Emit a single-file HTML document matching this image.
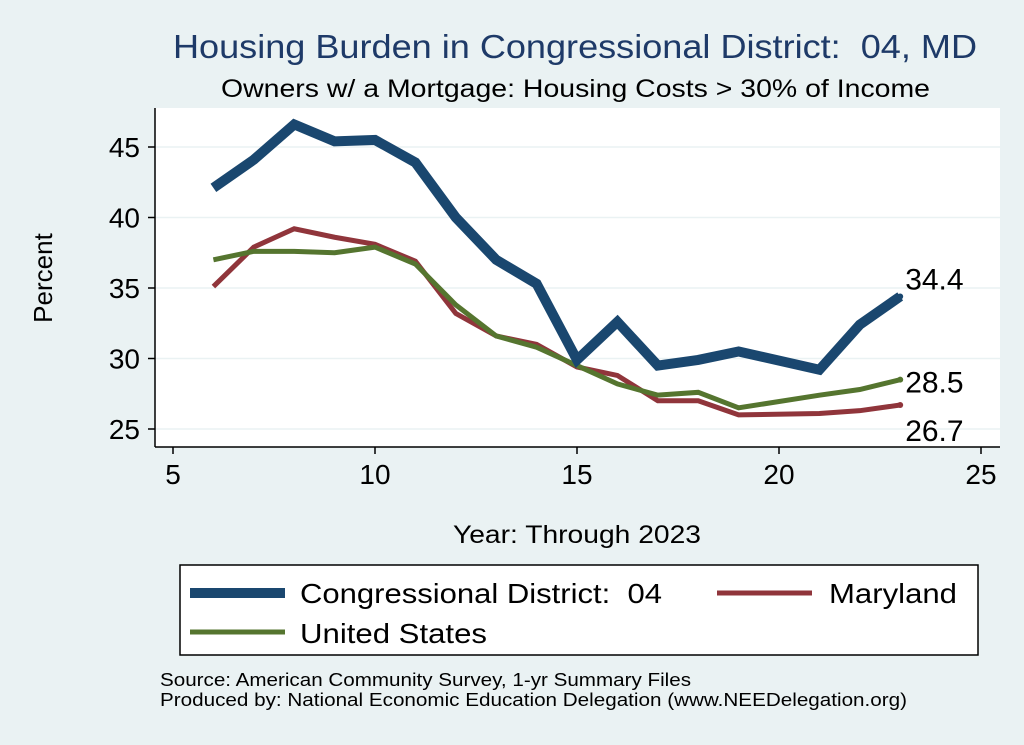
<!DOCTYPE html>
<html><head><meta charset="utf-8"><style>
body{margin:0;background:#eaf2f3;}
svg{display:block;font-family:"Liberation Sans",sans-serif;}
text{white-space:pre;}
</style></head><body>
<svg width="1024" height="745">
<rect x="0" y="0" width="1024" height="745" fill="#eaf2f3"/>
<text x="173" y="58" font-size="33" fill="#1e3a68" textLength="804" lengthAdjust="spacingAndGlyphs">Housing Burden in Congressional District:  04, MD</text>
<text x="221" y="97" font-size="25" fill="#000" textLength="709" lengthAdjust="spacingAndGlyphs">Owners w/ a Mortgage: Housing Costs &gt; 30% of Income</text>
<rect x="155" y="108" width="845" height="339" fill="#fff"/>
<g id="grid"></g>
<g id="axes"></g>
<g id="series"></g>
<text x="453" y="543" font-size="25" textLength="248" lengthAdjust="spacingAndGlyphs">Year: Through 2023</text>
<text x="52" y="278" font-size="26" text-anchor="middle" transform="rotate(-90 52 278)">Percent</text>
<g>
<rect x="180" y="565" width="798" height="90" fill="#fff" stroke="#000" stroke-width="1.5"/>
<line x1="190" y1="593" x2="285" y2="593" stroke="#1a476f" stroke-width="10"/>
<text x="300" y="603" font-size="28" textLength="362" lengthAdjust="spacingAndGlyphs">Congressional District:  04</text>
<line x1="717" y1="593" x2="812" y2="593" stroke="#90353b" stroke-width="5"/>
<text x="829" y="603" font-size="28" textLength="128" lengthAdjust="spacingAndGlyphs">Maryland</text>
<line x1="190" y1="632" x2="285" y2="632" stroke="#55752f" stroke-width="5"/>
<text x="300" y="643" font-size="28" textLength="187" lengthAdjust="spacingAndGlyphs">United States</text>
</g>
<text x="160" y="686" font-size="18" textLength="531" lengthAdjust="spacingAndGlyphs">Source: American Community Survey, 1-yr Summary Files</text>
<text x="160" y="706" font-size="18" textLength="747" lengthAdjust="spacingAndGlyphs">Produced by: National Economic Education Delegation (www.NEEDelegation.org)</text>
</svg>
<script>
const years=[6,7,8,9,10,11,12,13,14,15,16,17,18,19,21,22,23];
const district=[42.1,44.1,46.6,45.4,45.5,43.9,40.0,37.0,35.3,29.9,32.6,29.5,29.9,30.5,29.2,32.4,34.4];
const maryland=[35.1,37.9,39.2,38.6,38.1,36.9,33.2,31.6,31.0,29.4,28.8,27.0,27.0,26.0,26.1,26.3,26.7];
const unitedStates=[37.0,37.6,37.6,37.5,37.9,36.7,33.8,31.6,30.8,29.5,28.2,27.4,27.6,26.5,27.4,27.8,28.5];
const xTicks=[5,10,15,20,25];
const yTicks=[25,30,35,40,45];
const NS="http://www.w3.org/2000/svg";
const X=v=>173+(v-5)*40.4;
const Y=v=>429-(v-25)*14.1;
function mk(t,a,p){const e=document.createElementNS(NS,t);for(const k in a)e.setAttribute(k,a[k]);p.appendChild(e);return e;}
const grid=document.getElementById('grid'),axes=document.getElementById('axes'),ser=document.getElementById('series');
mk('line',{x1:155,y1:108,x2:155,y2:447,stroke:'#000','stroke-width':1.5},axes);
mk('line',{x1:155,y1:447,x2:1000,y2:447,stroke:'#000','stroke-width':1.5},axes);
yTicks.forEach(t=>{
const g=mk('line',{x1:155,y1:Y(t),x2:1000,y2:Y(t),stroke:'#eaf2f3','stroke-width':1.5},grid);


mk('line',{x1:148,y1:Y(t),x2:155,y2:Y(t),stroke:'#000','stroke-width':1.5},axes);
const tx=mk('text',{x:140,y:Y(t)+10,'font-size':28,'text-anchor':'end'},axes);tx.textContent=t;


});
xTicks.forEach(t=>{
mk('line',{x1:X(t),y1:447,x2:X(t),y2:454,stroke:'#000','stroke-width':1.5},axes);
const tx=mk('text',{x:X(t),y:484,'font-size':28,'text-anchor':'middle'},axes);tx.textContent=t;


});
function line(vals,color,w,name){
const p=mk('polyline',{points:years.map((y,i)=>X(y)+','+Y(vals[i])).join(' '),fill:'none',stroke:color,'stroke-width':w,'stroke-linejoin':'miter'},ser);


const n=vals.length-1;
mk('circle',{cx:X(years[n]),cy:Y(vals[n]),r:3,fill:color},ser);
}
line(maryland,'#90353b',5,'maryland-line');
line(unitedStates,'#55752f',5,'us-line');
line(district,'#1a476f',10,'district-line');
function lab(vals,dy,name){
const n=vals.length-1;
const t=mk('text',{x:X(years[n])+5,y:Y(vals[n])+dy,'font-size':30},ser);t.textContent=vals[n].toFixed(1);


}
lab(district,-7,'district-end-label');
lab(unitedStates,13,'us-end-label');
lab(maryland,36,'maryland-end-label');
</script>
</body></html>
